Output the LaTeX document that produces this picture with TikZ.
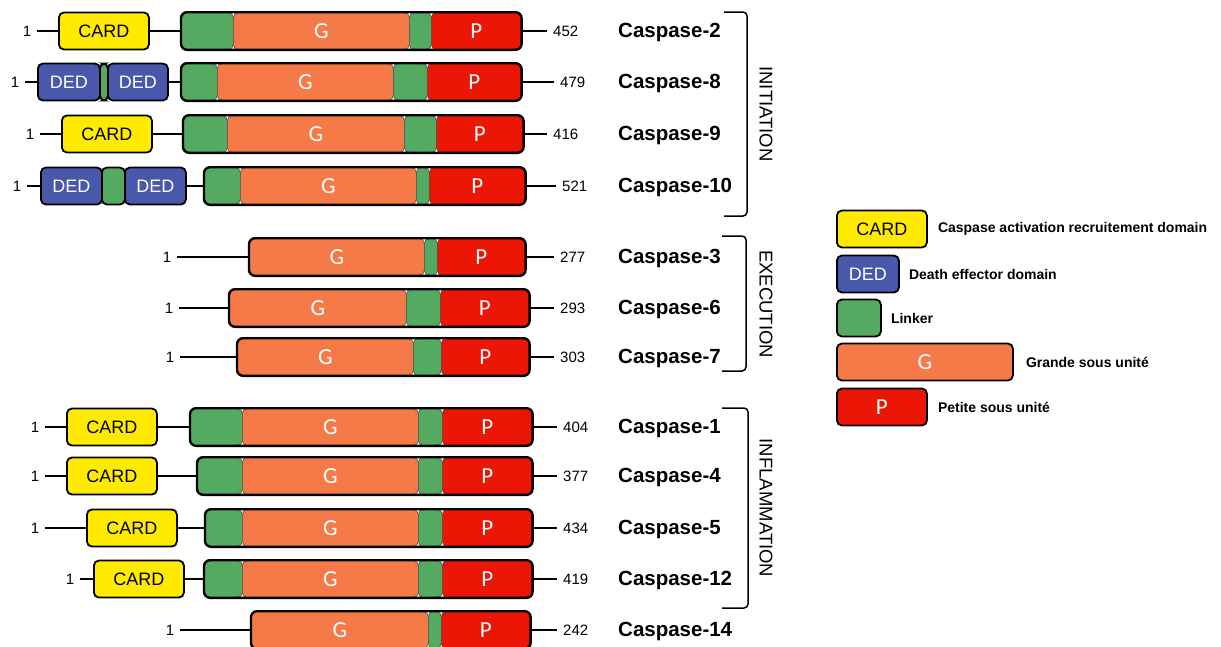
\documentclass[tikz,border=0pt]{standalone}
\usepackage{fontspec}
\setmainfont{Liberation Sans}
\newfontfamily\segfont{Carlito}
\usetikzlibrary{positioning,fit}
\definecolor{cardY}{RGB}{255,234,0}
\definecolor{dedB}{RGB}{72,88,170}
\definecolor{lnkG}{RGB}{84,170,96}
\definecolor{grdO}{RGB}{246,122,72}
\definecolor{ptR}{RGB}{236,22,6}

\tikzset{
  seg/.style={draw=black!70, line width=0.6pt, rounded corners=5pt, minimum height=37pt,
    inner sep=0pt, anchor=west, text=white, font=\segfont\fontsize{23}{23}\selectfont},
  dom/.style={draw=black, line width=1.8pt, rounded corners=5pt, minimum height=37pt,
    inner sep=0pt, anchor=west, font=\fontsize{18}{18}\selectfont},
  barbox/.style={draw=black, line width=2.4pt, rounded corners=6pt, inner sep=0pt},
  link/.style={line width=1.8pt},
  num/.style={font=\fontsize{15}{15}\selectfont, inner sep=6pt},
  cname/.style={font=\bfseries\fontsize{20.5}{20.5}\selectfont, anchor=west, inner sep=0pt},
  brk/.style={line width=1.5pt, rounded corners=4pt},
  grp/.style={font=\fontsize{18.5}{18.5}\selectfont, rotate=-90},
  legtxt/.style={font=\bfseries\fontsize{14}{14}\selectfont, inner sep=0pt},
}

\begin{document}
\begin{tikzpicture}[x=1pt,y=-1pt]
  \useasboundingbox (0,0) rectangle (1221,646);

  % CARD caspases
  \foreach \y/\one/\cl/\bl/\ga/\gb/\gc/\br/\nx/\len/\nm in {
    31/27/58/181/233/409/431/521/547/452/2,
    134/30/61/183/227/404/436/523/547/416/9,
    427/35/66/190/242/418/442/532/557/404/1,
    476/35/66/197/242/418/442/532/557/377/4,
    528/35/86/205/242/418/442/532/557/434/5,
    579/70/93/204/242/418/442/532/557/419/12}{
    \node[num] (one\nm) at (\one,\y) {1};
    \node[dom, fill=cardY, minimum width=90pt] (card\nm) at (\cl,\y) {CARD};
    \node[seg, fill=lnkG, minimum width={\ga-\bl}] (la\nm) at (\bl,\y) {};
    \node[seg, fill=grdO, minimum width={\gb-\ga}] (g\nm) at (\ga,\y) {G};
    \node[seg, fill=lnkG, minimum width={\gc-\gb}] (lb\nm) at (\gb,\y) {};
    \node[seg, fill=ptR, minimum width={\br-\gc}] (p\nm) at (\gc,\y) {P};
    \node[barbox, fit=(la\nm)(p\nm)] (bar\nm) {};
    \node[num, anchor=west] (len\nm) at (\nx,\y) {\len};
    \node[cname] (nm\nm) at (618,\y+1) {Caspase-\nm};
    \draw[link] (one\nm) -- (card\nm);
    \draw[link] (card\nm) -- (bar\nm);
    \draw[link] (bar\nm) -- (len\nm);
  }

  % DED caspases
  \foreach \y/\one/\da/\db/\dc/\dd/\bl/\ga/\gb/\gc/\br/\nx/\len/\nm in {
    82/15/37/99/107/167/181/217/393/427/521/554/479/8,
    186/17/40/101/124/185/204/240/416/429/525/556/521/10}{
    \node[num] (one\nm) at (\one,\y) {1};
    \node[dom, fill=dedB, text=white, minimum width={\db-\da}] (dA\nm) at (\da,\y) {DED};
    \node[dom, fill=lnkG, minimum width={\dc-\db}] (dl\nm) at (\db,\y) {};
    \node[dom, fill=dedB, text=white, minimum width={\dd-\dc}] (dB\nm) at (\dc,\y) {DED};
    \node[seg, fill=lnkG, minimum width={\ga-\bl}] (la\nm) at (\bl,\y) {};
    \node[seg, fill=grdO, minimum width={\gb-\ga}] (g\nm) at (\ga,\y) {G};
    \node[seg, fill=lnkG, minimum width={\gc-\gb}] (lb\nm) at (\gb,\y) {};
    \node[seg, fill=ptR, minimum width={\br-\gc}] (p\nm) at (\gc,\y) {P};
    \node[barbox, fit=(la\nm)(p\nm)] (bar\nm) {};
    \node[num, anchor=west] (len\nm) at (\nx,\y) {\len};
    \node[cname] (nm\nm) at (618,\y+1) {Caspase-\nm};
    \draw[link] (one\nm) -- (dA\nm);
    \draw[link] (dB\nm) -- (bar\nm);
    \draw[link] (bar\nm) -- (len\nm);
  }

  % short caspases
  \foreach \y/\one/\bl/\gb/\gc/\br/\nx/\len/\nm in {
    257/167/249/424/437/525/554/277/3,
    308/169/229/406/440/529/554/293/6,
    357/170/237/413/441/529/554/303/7,
    630/170/251/428/441/530/557/242/14}{
    \node[num] (one\nm) at (\one,\y) {1};
    \node[seg, fill=grdO, minimum width={\gb-\bl}] (g\nm) at (\bl,\y) {G};
    \node[seg, fill=lnkG, minimum width={\gc-\gb}] (lb\nm) at (\gb,\y) {};
    \node[seg, fill=ptR, minimum width={\br-\gc}] (p\nm) at (\gc,\y) {P};
    \node[barbox, fit=(g\nm)(p\nm)] (bar\nm) {};
    \node[num, anchor=west] (len\nm) at (\nx,\y) {\len};
    \node[cname] (nm\nm) at (618,\y+1) {Caspase-\nm};
    \draw[link] (one\nm) -- (bar\nm);
    \draw[link] (bar\nm) -- (len\nm);
  }

  % groups
  \draw[brk] (724,12) -- (747,12) -- (747,216) -- (724,216);
  \draw[brk] (722,236) -- (746,236) -- (746,371) -- (722,371);
  \draw[brk] (722,408) -- (748,408) -- (748,608) -- (722,608);
  \node[grp] (ini) at (766,114) {INITIATION};
  \node[grp] (exe) at (766,304) {EXECUTION};
  \node[grp] (inf) at (766,508) {INFLAMMATION};

  % legend
  \node[dom, fill=cardY, minimum width=90pt] (lcard) at (836,229) {CARD};
  \node[dom, fill=dedB, text=white, minimum width=62pt] (lded) at (836,274) {DED};
  \node[dom, fill=lnkG, minimum width=44pt] (llnk) at (836,318) {};
  \node[dom, fill=grdO, text=white, font=\segfont\fontsize{23}{23}\selectfont,
    minimum width=176pt] (lgrd) at (836,362) {G};
  \node[dom, fill=ptR, text=white, font=\segfont\fontsize{23}{23}\selectfont,
    minimum width=90pt] (lpet) at (836,407) {P};
  \node[legtxt, right=10pt of lcard] (tcard) {Caspase activation recruitement domain};
  \node[legtxt, right=9pt of lded] (tded) {Death effector domain};
  \node[legtxt, right=9pt of llnk] (tlnk) {Linker};
  \node[legtxt, right=12pt of lgrd] (tgrd) {Grande sous unité};
  \node[legtxt, right=10pt of lpet] (tpet) {Petite sous unité};
\end{tikzpicture}
\end{document}
